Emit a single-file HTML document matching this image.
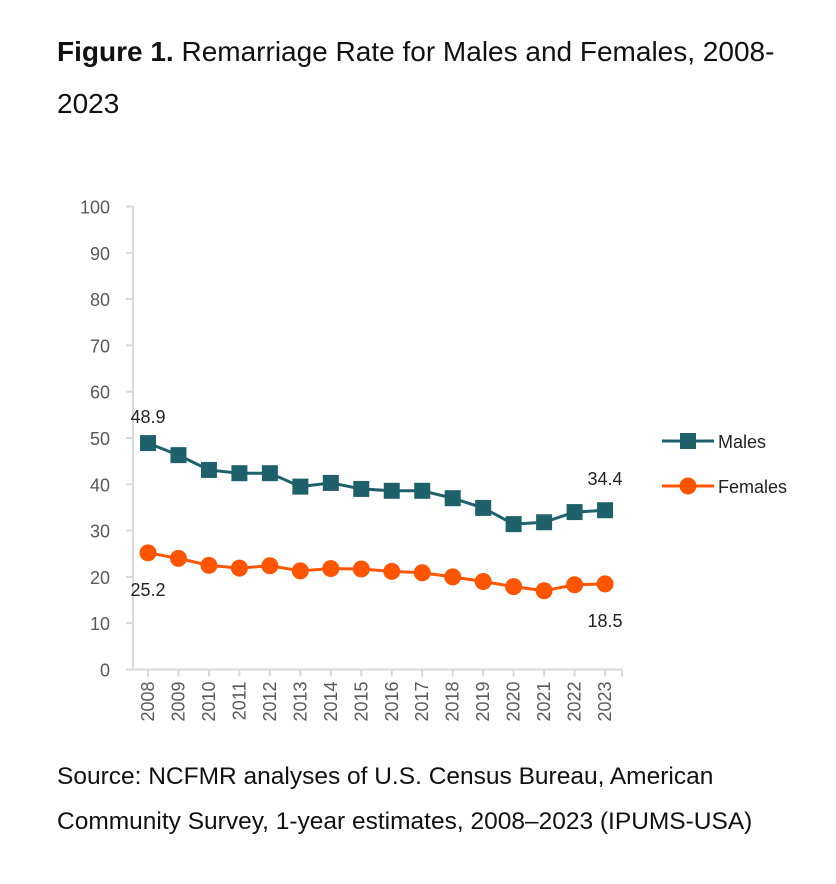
<!DOCTYPE html>
<html><head><meta charset="utf-8"><style>
body{margin:0;width:836px;height:884px;background:#fff;font-family:"Liberation Sans",sans-serif;color:#111;position:relative;overflow:hidden}
.title{position:absolute;left:57px;top:26px;width:790px;font-size:28px;line-height:52px;white-space:nowrap}
.src{position:absolute;left:57px;top:754px;font-size:24.5px;line-height:45px;width:790px;white-space:nowrap}
svg{position:absolute;left:0;top:0}
</style></head><body>
<div class="title"><b>Figure 1.</b> Remarriage Rate for Males and Females, 2008-<br>2023</div>
<svg id="c" width="836" height="884"></svg>
<div class="src">Source: NCFMR analyses of U.S. Census Bureau, American<br>Community Survey, 1-year estimates, 2008–2023 (IPUMS-USA)</div>
<script>
const years=[2008,2009,2010,2011,2012,2013,2014,2015,2016,2017,2018,2019,2020,2021,2022,2023];
const males=[48.9,46.3,43.1,42.4,42.4,39.5,40.3,39.0,38.6,38.6,37.0,34.9,31.4,31.8,34.0,34.4];
const females=[25.2,24.0,22.5,21.9,22.4,21.3,21.8,21.7,21.2,20.9,20.0,19.0,17.9,17.0,18.3,18.5];
const yTicks=[0,10,20,30,40,50,60,70,80,90,100];
const ns="http://www.w3.org/2000/svg",svg=document.getElementById('c');
const X=i=>148+i*30.47, Y=v=>669.5-v*4.63;
function mk(t,a,txt){const e=document.createElementNS(ns,t);for(const k in a)e.setAttribute(k,a[k]);if(txt!=null)e.textContent=txt;svg.appendChild(e);return e;}
let e;
e=mk('line',{x1:133,y1:Y(100),x2:133,y2:Y(0),stroke:'#d9d9d9','stroke-width':2});


e=mk('line',{x1:126,y1:Y(0),x2:622,y2:Y(0),stroke:'#d9d9d9','stroke-width':2});


yTicks.forEach(t=>{
 mk('line',{x1:126,y1:Y(t),x2:133,y2:Y(t),stroke:'#d9d9d9','stroke-width':2});
 e=mk('text',{x:110,y:Y(t)+7,'text-anchor':'end','font-size':18,fill:'#595959'},t);
 
 
});
years.forEach((y,i)=>{
 mk('line',{x1:X(i),y1:Y(0),x2:X(i),y2:Y(0)+7,stroke:'#d9d9d9','stroke-width':2});
 e=mk('text',{x:0,y:0,transform:`translate(${X(i)+6},${Y(0)+12}) rotate(-90)`,'text-anchor':'end','font-size':18,fill:'#595959'},y);
 
 
});
mk('line',{x1:622,y1:Y(0),x2:622,y2:Y(0)+7,stroke:'#d9d9d9','stroke-width':2});
e=mk('polyline',{points:males.map((v,i)=>X(i)+','+Y(v)).join(' '),fill:'none',stroke:'#1f616b','stroke-width':3});


e=mk('polyline',{points:females.map((v,i)=>X(i)+','+Y(v)).join(' '),fill:'none',stroke:'#ff5500','stroke-width':3});


males.forEach((v,i)=>{e=mk('rect',{x:X(i)-8,y:Y(v)-8,width:16,height:16,fill:'#1f616b'});
 
 });
females.forEach((v,i)=>{e=mk('circle',{cx:X(i),cy:Y(v),r:8.5,fill:'#ff5500'});
 
 });
const n=years.length-1;
e=mk('text',{x:X(0),y:Y(males[0])-20,'text-anchor':'middle','font-size':18,fill:'#222'},males[0].toFixed(1));


e=mk('text',{x:X(n),y:Y(males[n])-25,'text-anchor':'middle','font-size':18,fill:'#222'},males[n].toFixed(1));


e=mk('text',{x:X(0),y:Y(females[0])+43,'text-anchor':'middle','font-size':18,fill:'#222'},females[0].toFixed(1));


e=mk('text',{x:X(n),y:Y(females[n])+43,'text-anchor':'middle','font-size':18,fill:'#222'},females[n].toFixed(1));


mk('line',{x1:662,y1:441,x2:714,y2:441,stroke:'#1f616b','stroke-width':3});
mk('rect',{x:680,y:433,width:16,height:16,fill:'#1f616b'});
e=mk('text',{x:718,y:448,'font-size':18,fill:'#222'},'Males');


mk('line',{x1:662,y1:486,x2:714,y2:486,stroke:'#ff5500','stroke-width':3});
mk('circle',{cx:688,cy:486,r:8.5,fill:'#ff5500'});
e=mk('text',{x:718,y:493,'font-size':18,fill:'#222'},'Females');


</script>
</body></html>
